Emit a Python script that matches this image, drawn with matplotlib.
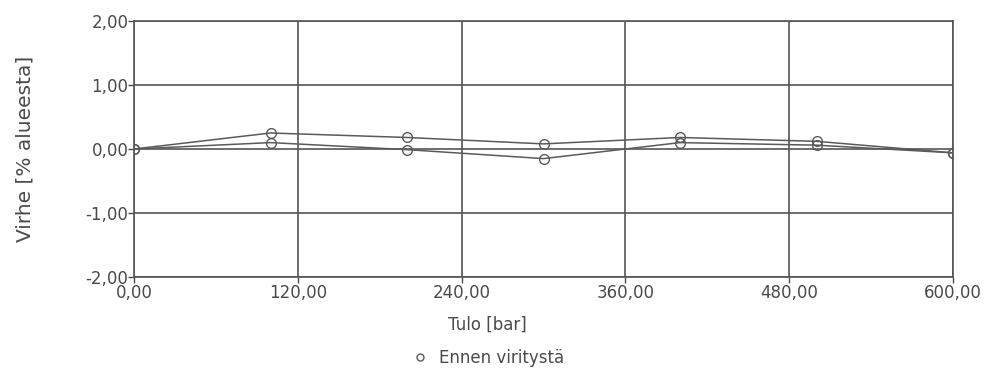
import matplotlib
matplotlib.use("Agg")
import matplotlib.pyplot as plt
from matplotlib.ticker import FuncFormatter

plt.rcParams['font.family'] = ['DejaVu Sans']

# data
tulo = [0, 100, 200, 300, 400, 500, 600]
virhe_a = [0.00, 0.25, 0.18, 0.08, 0.18, 0.12, -0.06]
virhe_b = [0.00, 0.10, -0.01, -0.15, 0.10, 0.06, -0.06]
x_ticks = [0, 120, 240, 360, 480, 600]
y_ticks = [-2, -1, 0, 1, 2]

text_col = '#4a4a4a'
line_col = '#5a5a5a'

fig = plt.figure(figsize=(9.9, 3.74), dpi=100)
ax = fig.add_axes([134 / 990, 1 - 277 / 374, 819 / 990, 256 / 374])

ax.plot(tulo, virhe_a, color=line_col, lw=1.1, marker='o', ms=7,
        mfc='none', mec=line_col, mew=1.0, zorder=3, label='Ennen viritystä')
ax.plot(tulo, virhe_b, color=line_col, lw=1.1, marker='o', ms=7,
        mfc='none', mec=line_col, mew=1.0, zorder=3)

ax.set_xlim(0, 600)
ax.set_ylim(-2, 2)
ax.set_xticks(x_ticks)
ax.set_yticks(y_ticks)
fmt = FuncFormatter(lambda v, p: f"{v:.2f}".replace('.', ','))
ax.xaxis.set_major_formatter(fmt)
ax.yaxis.set_major_formatter(fmt)

ax.grid(True, color='#555555', lw=1.2)
ax.set_axisbelow(True)
for s in ax.spines.values():
    s.set_color('#555555')
    s.set_linewidth(1.2)

ax.tick_params(colors=text_col, labelsize=12, length=4, width=1.0,
               direction='out', pad=0)
ax.tick_params(axis='x', pad=1)

ax.set_ylabel('Virhe [% alueesta]', fontsize=14.5, color=text_col)
ax.yaxis.set_label_coords(-0.122, 0.50)
ax.set_xlabel('Tulo [bar]', fontsize=12, color=text_col)
ax.xaxis.set_label_coords(0.432, -0.15)

h = [ax.lines[0]]
leg = fig.legend(h, ['Ennen viritystä'], loc='center', bbox_to_anchor=(488 / 990, 1 - 358 / 374),
                 frameon=False, fontsize=12, handlelength=1.0, handletextpad=0.6,
                 labelcolor=text_col, borderpad=0)
leg.legend_handles[0].set_linestyle('none')
leg.legend_handles[0].set_markersize(5)

fig.savefig('out.png', dpi=100, facecolor='white')
